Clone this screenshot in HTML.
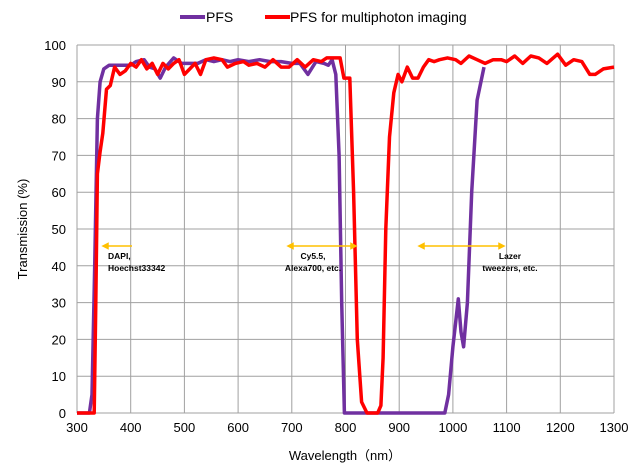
<!DOCTYPE html><html><head><meta charset="utf-8"><style>body{margin:0;background:#fff}svg{display:block;font-family:"Liberation Sans",sans-serif}</style></head><body>
<svg id="s" width="640" height="476" xmlns="http://www.w3.org/2000/svg">
<g id="grid" stroke="#a0a0a0" stroke-width="1"></g>
<g id="lab" font-size="13" fill="#000"></g>
<text x="345" y="460" font-size="13" text-anchor="middle">Wavelength（nm）</text>
<text transform="translate(27,229) rotate(-90)" font-size="13" text-anchor="middle">Transmission (%)</text>
<line x1="180" y1="17" x2="205" y2="17" stroke="#7030a0" stroke-width="4"/><text x="206" y="22" font-size="14">PFS</text>
<line x1="265" y1="17" x2="290" y2="17" stroke="#ff0000" stroke-width="4"/><text x="290" y="22" font-size="14">PFS for multiphoton imaging</text>
<path id="p" fill="none" stroke="#7030a0" stroke-width="3.5" stroke-linejoin="round"/>
<path id="r" fill="none" stroke="#ff0000" stroke-width="3.5" stroke-linejoin="round"/>
<g stroke="#ffc000" stroke-width="1.5" fill="#ffc000">
<line x1="105" y1="246" x2="132" y2="246"/><polygon points="103,246 108,243.5 108,248.5"/>
<line x1="290" y1="246" x2="354" y2="246"/><polygon points="288,246 293,243.5 293,248.5"/><polygon points="356,246 351,243.5 351,248.5"/>
<line x1="421" y1="246" x2="502" y2="246"/><polygon points="419,246 424,243.5 424,248.5"/><polygon points="504,246 499,243.5 499,248.5"/>
</g>
<g font-size="8.5" font-weight="bold" fill="#000">
<text x="108" y="259">DAPI,</text><text x="108" y="271">Hoechst33342</text>
<text x="313" y="259" text-anchor="middle">Cy5.5,</text><text x="313" y="271" text-anchor="middle">Alexa700, etc.</text>
<text x="510" y="259" text-anchor="middle">Lazer</text><text x="510" y="271" text-anchor="middle">tweezers, etc.</text>
</g>
</svg>
<script>
const X=n=>77+0.537*(n-300),Y=v=>413-3.68*v;
let g='',l='';
for(let i=0;i<=10;i++){let x=X(300+i*100),y=Y(i*10);
g+=`<line x1="${x}" y1="45" x2="${x}" y2="413"/><line x1="77" y1="${y}" x2="614" y2="${y}"/>`;
l+=`<text x="${x}" y="432" text-anchor="middle">${300+i*100}</text><text x="66" y="${y+5}" text-anchor="end">${i*10}</text>`;}
document.getElementById('grid').innerHTML=g;document.getElementById('lab').innerHTML=l;
const P=[[300,0],[323,0],[328,5],[333,40],[338,80],[343,90],[350,93.5],[360,94.5],[380,94.5],[400,94.5],[410,95.5],[425,96],[435,94],[445,93.5],[455,91],[465,94],[480,96.5],[495,95],[510,95],[525,95],[540,96],[555,95.5],[570,96],[585,95.5],[600,96],[620,95.5],[640,96],[660,95.5],[680,95.5],[700,95],[715,95],[730,92],[745,95.5],[760,95],[768,94.5],[775,96],[782,92],[788,70],[793,30],[798,0],[985,0],[992,5],[1000,18],[1010,31],[1015,22],[1020,18],[1027,30],[1035,60],[1045,85],[1058,94]];
const R=[[300,0],[332,0],[335,30],[338,65],[343,71],[348,76],[355,88],[362,89],[370,94],[380,92],[390,93],[400,95],[410,94],[420,96],[430,93.5],[440,95],[450,92],[460,95],[470,93.5],[480,95],[490,96],[500,92],[510,93.5],[520,95],[530,92],[540,96],[555,96.5],[570,96],[580,94],[595,95],[610,95.5],[620,94.5],[635,95],[650,94],[665,96],[680,94],[695,94],[710,96],[725,94],[740,96],[755,95.5],[765,96.5],[790,96.5],[797,91],[808,91],[815,60],[822,20],[830,3],[840,0],[860,0],[866,2],[870,15],[875,50],[882,75],[890,87],[898,92],[905,90],[915,94],[925,91],[935,91],[945,94],[955,96],[965,95.5],[975,96],[990,96.5],[1005,96],[1015,95],[1030,97],[1045,96],[1060,95],[1075,96],[1090,96],[1100,95.5],[1115,97],[1130,95],[1145,97],[1160,96.5],[1175,95],[1195,97.5],[1210,94.5],[1225,96],[1240,95.5],[1255,92],[1265,92],[1280,93.5],[1300,94]];
const d=a=>'M'+a.map(p=>X(p[0]).toFixed(1)+','+Y(p[1]).toFixed(1)).join('L');
document.getElementById('p').setAttribute('d',d(P));document.getElementById('r').setAttribute('d',d(R));
</script>
</body></html>
